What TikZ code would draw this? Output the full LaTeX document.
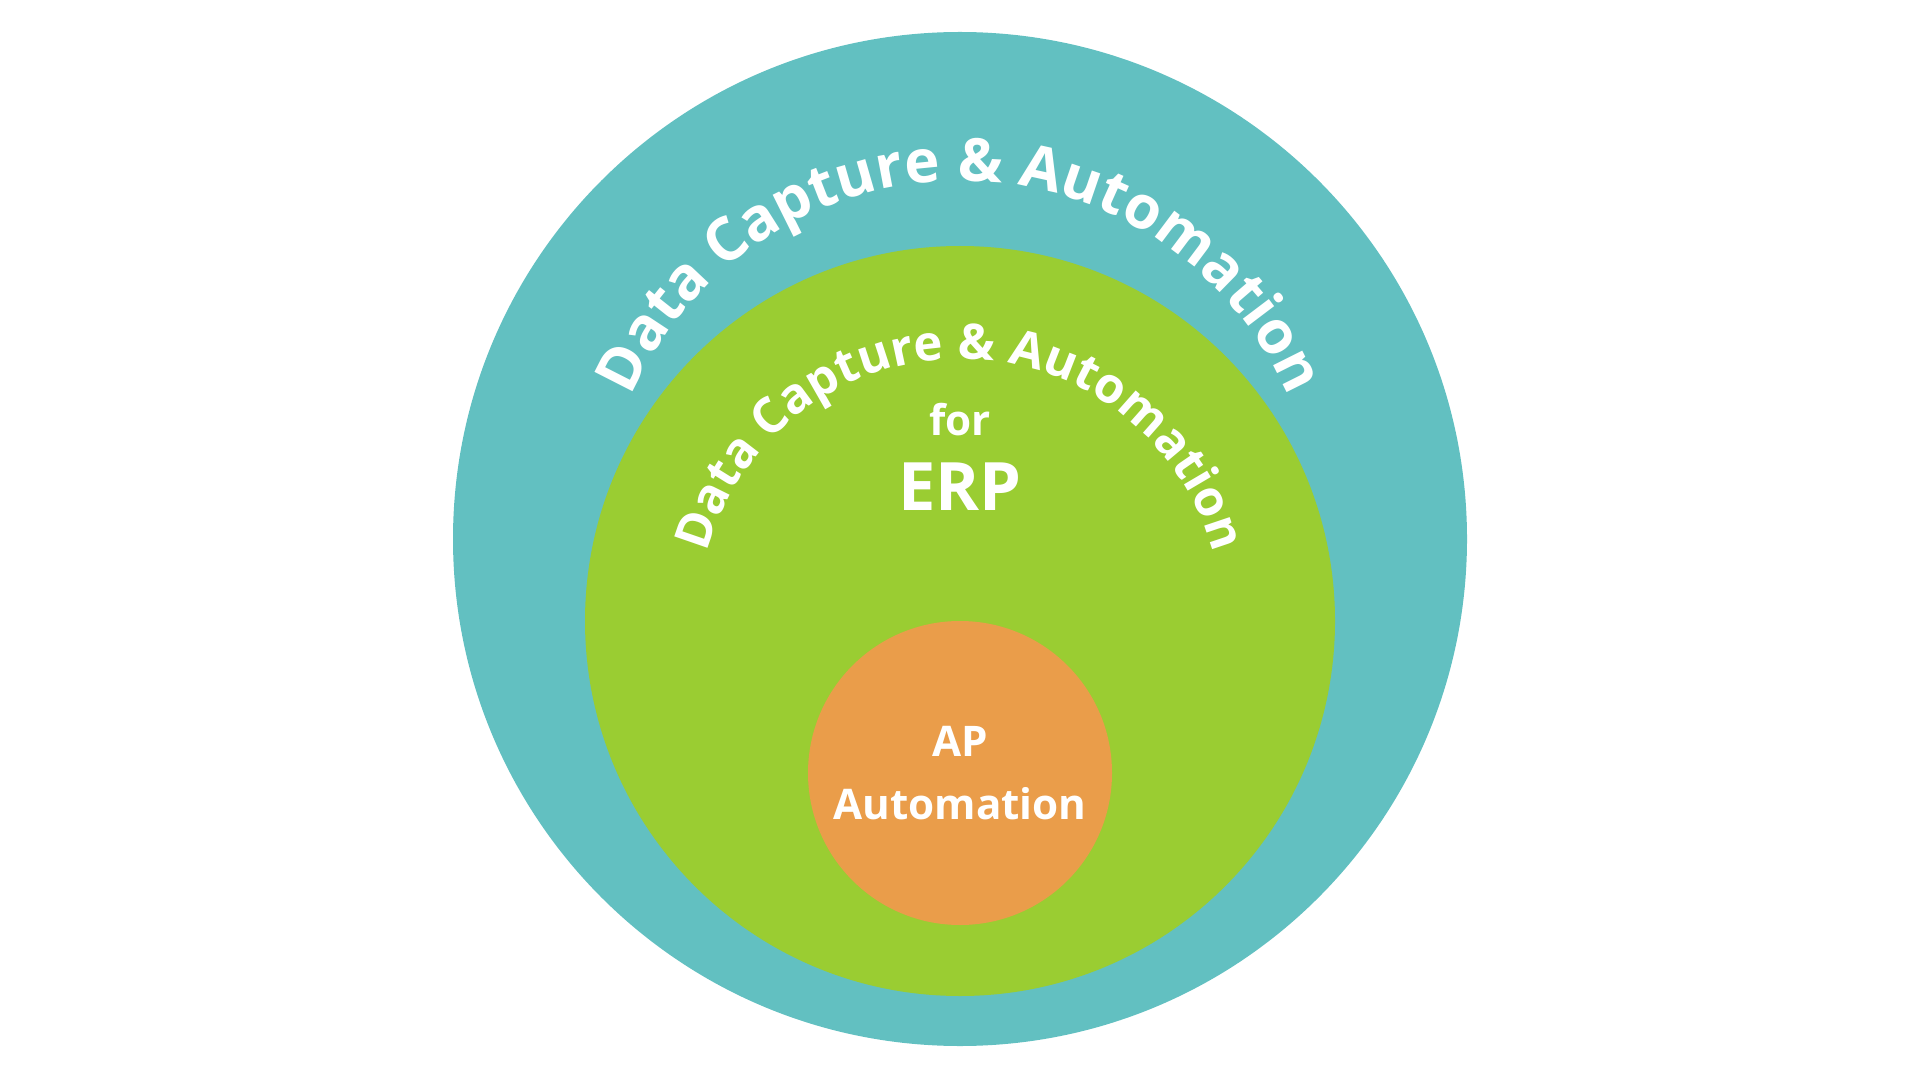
\documentclass[tikz,border=0pt]{standalone}
\usepackage{fontspec}
\setmainfont{Open Sans}
\usetikzlibrary{decorations.text}
\definecolor{outerteal}{HTML}{62C0C1}
\definecolor{midgreen}{HTML}{9ACD32}
\definecolor{coreorange}{HTML}{EA9D4A}
\tikzset{
    ring/.style={circle, inner sep=0pt},
    label/.style={text=white, font=\bfseries, align=center},
    arctext/.style={decorate, decoration={text along path, text align={align=center}, text color=white}}
}

\begin{document}
\begin{tikzpicture}
    \useasboundingbox (0,0) rectangle (19.2,-10.8);
    \node[ring, fill=outerteal, minimum size=10.14cm] (Outer) at (9.6,-5.39) {};
    \node[ring, fill=midgreen, minimum size=7.5cm] (Middle) at (9.6,-6.21) {};
    \node[ring, fill=coreorange, minimum size=3.04cm] (Core) at (9.6,-7.73) {};

    % curved titles
    \path[arctext, decoration={text={|\fontsize{17}{20}\selectfont\bfseries|Data Capture {\&} Automation}}]
        (Outer.center) ++(178:3.58) arc (178:2:3.58);
    \path[arctext, decoration={text={|\fontsize{14}{17}\selectfont\bfseries|Data Capture {\&} Automation}}]
        (Middle.center) ++(179:2.62) arc (179:1:2.62);

    \node[label, font=\bfseries\fontsize{12}{14}\selectfont] (For) at (9.6,-4.2) {for};
    \node[label, font=\bfseries\fontsize{19}{23}\selectfont] (ERP) at (9.6,-4.87) {ERP};
    \node[label, font=\bfseries\fontsize{12}{18}\selectfont] (AP) at (Core.center) {AP\\Automation};
\end{tikzpicture}
\end{document}
